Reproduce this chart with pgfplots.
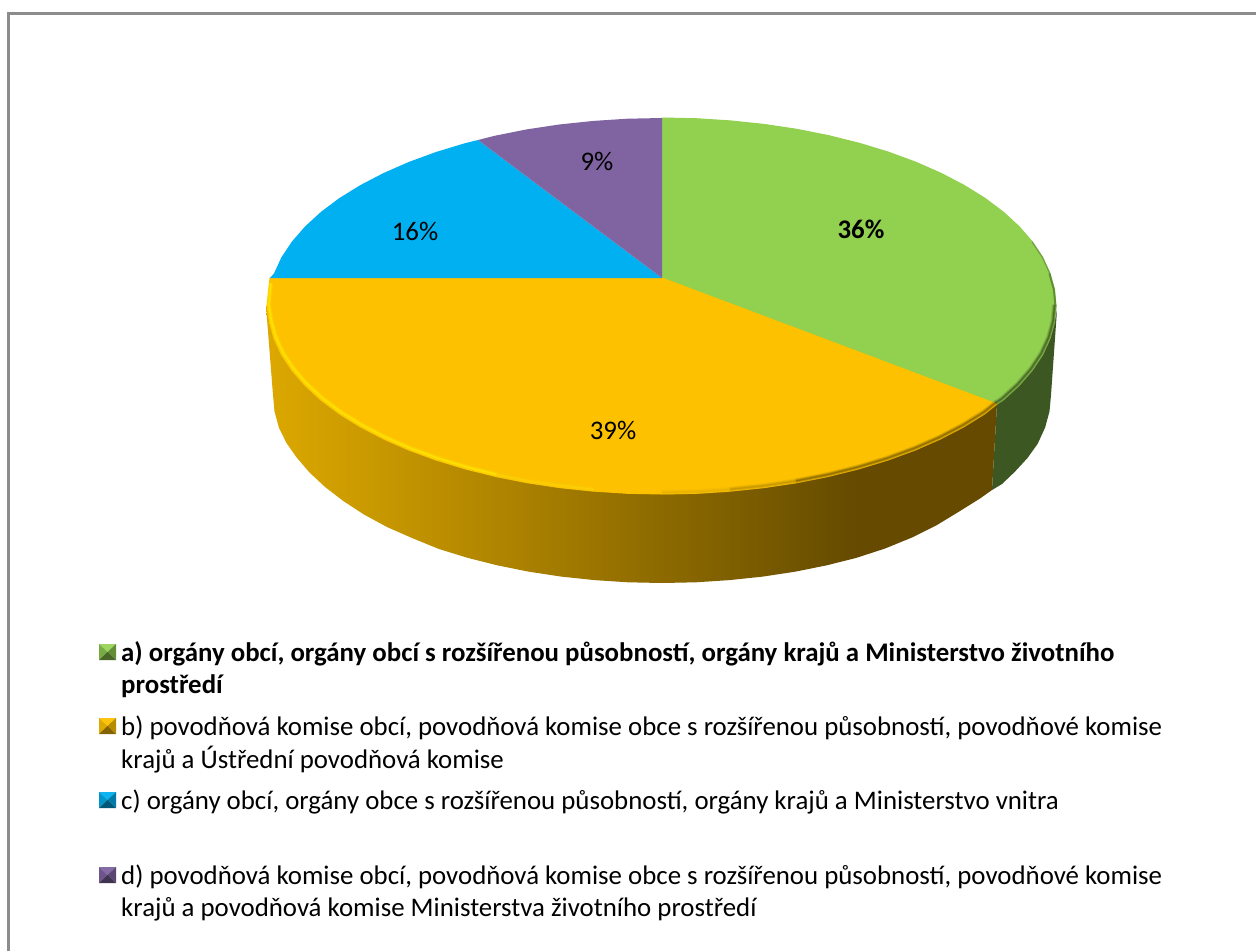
\documentclass[border=0pt]{standalone}
\usepackage{fontspec}
\setmainfont{Carlito}
\usepackage{pgfplots}
\pgfplotsset{compat=1.18}
\definecolor{dbA}{HTML}{DCA800}
\definecolor{dbB}{HTML}{C49500}
\definecolor{dbC}{HTML}{9A7400}
\definecolor{dbD}{HTML}{705400}
\definecolor{dbE}{HTML}{654A00}
\definecolor{pgreen}{HTML}{92D050}
\definecolor{pgside}{HTML}{3D5723}
\definecolor{pyellow}{HTML}{FDC100}
\definecolor{pblue}{HTML}{00B0F0}
\definecolor{ppurple}{HTML}{8064A2}
\pgfdeclarehorizontalshading{yside}{100bp}{color(0bp)=(dbA); color(25bp)=(dbA); color(34bp)=(dbB); color(47.75bp)=(dbC); color(61.4bp)=(dbD); color(65.5bp)=(dbE); color(75bp)=(dbE); color(100bp)=(dbE)}
\newcommand\legsq[7]{%
 \addplot[fill=#4,draw=none] coordinates {(99,#1) (116,#1) (107.5,#2)} -- cycle;
 \addplot[fill=#5,draw=none] coordinates {(99,#1) (99,#3) (107.5,#2)} -- cycle;
 \addplot[fill=#6,draw=none] coordinates {(116,#1) (116,#3) (107.5,#2)} -- cycle;
 \addplot[fill=#7,draw=none] coordinates {(99,#3) (116,#3) (107.5,#2)} -- cycle;
}
\newcommand\rim[3]{%
 \addplot[draw=#1,line width=5pt,draw opacity=.22,line join=round,#3] coordinates {#2};
 \addplot[draw=#1,line width=3.2pt,draw opacity=.4,line join=round,#3] coordinates {#2};
 \addplot[draw=#1,line width=1.4pt,draw opacity=.8,line join=round,#3] coordinates {#2};
}
\newcommand\lbl[3]{\node[anchor=base west,inner sep=0pt,font=\fontsize{26.85}{26.85}\selectfont] at (axis cs:#1,#2) {#3};}
\begin{document}
\begin{tikzpicture}
\begin{axis}[
  at={(0,0)}, scale only axis, width=1256pt, height=951pt,
  xmin=0, xmax=1256, ymin=0, ymax=951, y dir=reverse,
  hide axis, clip=true]
% background and frame
\addplot[fill=white,draw=none] coordinates {(0,0) (1256,0) (1256,951) (0,951)} -- cycle;
\addplot[draw=black!45,line width=3pt] coordinates {(8.5,951) (8.5,13) (1256,13)};
% green side
\addplot[fill=pgside,draw=none] coordinates {(997,404) (1003.2,400) (1019.1,385.4) (1032.2,370.3) (1042.6,354.7) (1050,338.6) (1054.5,322.4) (1057,310) (1051,395) (1049.5,411.4) (1045.1,427.6) (1037.7,443.7) (1027.5,458) (1014.6,472) (1002,484) (992,490)} -- cycle;
% yellow side
\addplot[shading=yside,draw=none] coordinates {(266,306) (662,400) (997,404) (992,490) (980,498.5) (960,511) (937,525) (912,537.5) (885.1,548.5) (856.5,557.8) (826.4,565.4) (795,571.7) (762.7,576.6) (729.5,580.1) (695.9,582.3) (662,583) (628.1,582.3) (594.5,580.1) (561.3,576.6) (529,571.7) (497.6,565.4) (467.5,557.8) (438.9,549) (412,538) (387,527) (364,514.5) (343.3,501) (325.1,487) (309.4,472.4) (296.5,457.3) (286.3,442.7) (278.9,427.6) (274.5,411.4) (273,395)} -- cycle;
% top: green 36 %
\addplot[fill=pgreen,draw=pgreen,line width=1pt] coordinates {(662,278) (662,118) (696.4,118.7) (730.4,120.9) (764,124.4) (796.8,129.3) (828.5,135.6) (859,143.2) (888,152) (915.3,162) (940.6,173.1) (963.8,185.2) (984.8,198.2) (1003.2,212) (1019.1,226.6) (1032.2,241.7) (1042.6,257.3) (1050,273.4) (1054.5,289.6) (1056,306) (1054.5,322.4) (1050,338.6) (1042.6,354.7) (1032.2,370.3) (1019.1,385.4) (1003.2,400) (997,404)} -- cycle;
% top: yellow 39 %
\addplot[fill=pyellow,draw=pyellow,line width=1pt] coordinates {(662,278) (997,404) (984.8,413.8) (963.8,426.8) (940.6,438.9) (915.3,450) (888,460) (859,468.8) (828.5,476.4) (796.8,482.7) (764,487.6) (730.4,491.1) (696.4,493.3) (662,494) (627.6,493.3) (593.6,491.1) (560,487.6) (527.2,482.7) (495.5,476.4) (465,468.8) (436,460) (408.7,450) (383.4,438.9) (360.2,426.8) (339.2,413.8) (320.8,400) (304.9,385.4) (291.8,370.3) (281.4,354.7) (274,338.6) (269.5,322.4) (267,306) (270,278)} -- cycle;
% top: blue 16 %
\addplot[fill=pblue,draw=none] coordinates {(662,278) (270,278) (274,273.4) (281.4,257.3) (291.8,241.7) (304.9,226.6) (320.8,212) (339.2,198.2) (360.2,185.2) (383.4,173.1) (408.7,162) (436,152) (465,143.2) (478,140)} -- cycle;
% top: purple 9 %
\addplot[fill=ppurple,draw=none] coordinates {(662,278) (478,140) (495.5,135.6) (527.2,129.3) (560,124.4) (593.6,120.9) (627.6,118.7) (662,118)} -- cycle;
% bevel
\rim{yellow!75!pyellow}{(269,285) (267,306) (269.5,322.4) (274,338.6) (281.4,354.7) (291.8,370.3) (304.9,385.4) (320.8,400) (339.2,413.8) (360.2,426.8) (383.4,438.9) (408.7,450) (436,460) (465,468.8) (495.5,476.4)}{xshift=1.8pt,yshift=1.8pt}
\rim{yellow!35!pyellow}{(495.5,476.4) (527.2,482.7) (560,487.6) (593.6,491.1)}{xshift=0.6pt,yshift=1.8pt}
\rim{pyellow!92!black}{(662,494) (696.4,493.3) (730.4,491.1)}{yshift=1.6pt}
\rim{pyellow!78!black}{(730.4,491.1) (764,487.6) (796.8,482.7)}{xshift=-0.4pt,yshift=1.8pt}
\rim{pyellow!55!black}{(796.8,482.7) (828.5,476.4) (859,468.8) (888,460) (915.3,450) (940.6,438.9) (963.8,426.8) (984.8,413.8) (997,404)}{xshift=-0.8pt,yshift=1.8pt}
\rim{pgreen!48!black}{(997,404) (1003.2,400) (1019.1,385.4) (1032.2,370.3) (1042.6,354.7) (1050,338.6) (1054.5,322.4) (1056,306)}{xshift=-1.4pt,yshift=1.2pt}
\addplot[draw=pgreen!55!black,line width=2pt,draw opacity=.7,xshift=-0.6pt] coordinates {(1056,306) (1054.5,289.6) (1050,273.4)};
\addplot[draw=pgreen!55!black,line width=1.2pt,draw opacity=.5,xshift=-0.2pt] coordinates {(1050,273.4) (1042.6,257.3) (1032.2,241.7)};
% legend keys
\legsq{644}{652}{660}{pgreen!90!white}{pgreen!82!black}{pgreen!68!black}{pgreen!50!black}
\legsq{718}{726}{734}{pyellow!95!white}{pyellow!88!black}{pyellow!72!black}{pyellow!52!black}
\legsq{792}{800}{808}{pblue!95!white}{pblue!85!black}{pblue!70!black}{pblue!50!black}
\legsq{867}{875}{883}{ppurple!95!white}{ppurple!85!black}{ppurple!70!black}{ppurple!50!black}
% legend text
\lbl{121}{661}{\textbf{a) orgány obcí, orgány obcí s rozšířenou působností, orgány krajů a Ministerstvo životního}}
\lbl{121}{693}{\textbf{prostředí}}
\lbl{121}{735}{b) povodňová komise obcí, povodňová komise obce s rozšířenou působností, povodňové komise}
\lbl{121}{768}{krajů a Ústřední povodňová komise}
\lbl{121}{809}{c) orgány obcí, orgány obce s rozšířenou působností, orgány krajů a Ministerstvo vnitra}
\lbl{121}{884}{d) povodňová komise obcí, povodňová komise obce s rozšířenou působností, povodňové komise}
\lbl{121}{916}{krajů a povodňová komise Ministerstva životního prostředí}
% data labels
\node[font=\fontsize{26.85}{26.85}\selectfont\bfseries] at (axis cs:861,229) {36\%};
\node[font=\fontsize{26.85}{26.85}\selectfont] at (axis cs:613,430) {39\%};
\node[font=\fontsize{26.85}{26.85}\selectfont] at (axis cs:415,231) {16\%};
\node[font=\fontsize{26.85}{26.85}\selectfont] at (axis cs:597,161) {9\%};
\end{axis}
\end{tikzpicture}
\end{document}
